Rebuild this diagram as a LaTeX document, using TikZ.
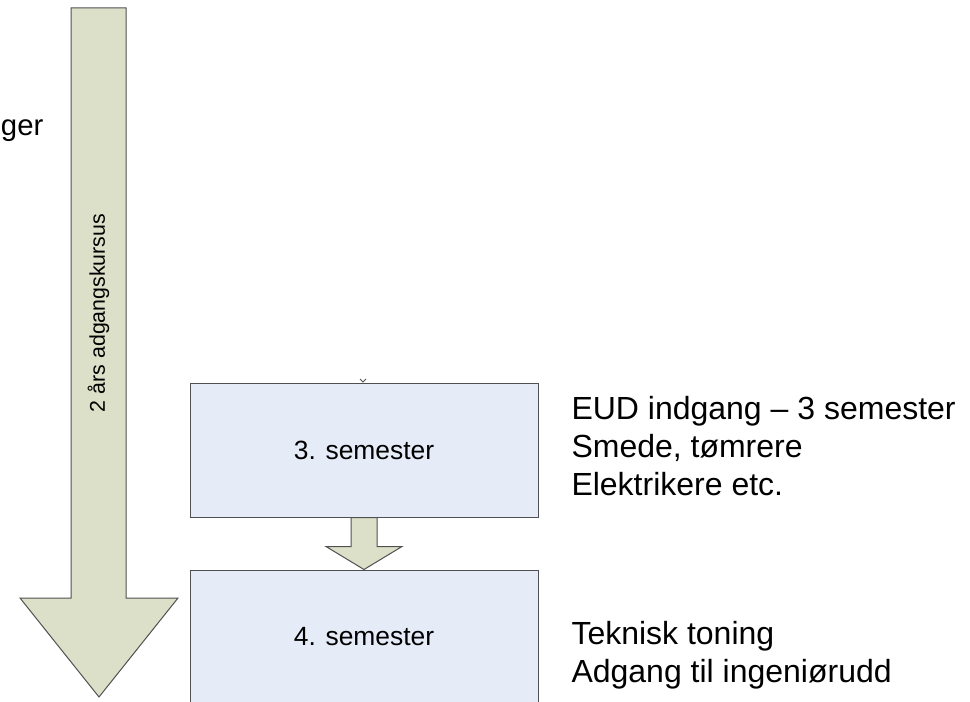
\documentclass[tikz,border=0pt]{standalone}
\usepackage{fontspec}
\setmainfont{Liberation Sans}
\usetikzlibrary{positioning,calc}
\definecolor{boxblue}{HTML}{E6ECF7}
\definecolor{arrowkhaki}{HTML}{DDE0C9}
\definecolor{edgegray}{HTML}{505050}

\begin{document}
\begin{tikzpicture}[x=0.75pt,y=-0.75pt,line width=0.75pt,
  every node/.style={inner sep=0pt},
  semester/.style={draw=edgegray,fill=boxblue,minimum width=261pt,minimum height=100.5pt,font=\fontsize{19.8}{23}\selectfont},
  notes/.style={align=left,anchor=west,font=\fontsize{24}{28.5}\selectfont},
  blockarrow/.style={draw=edgegray,fill=arrowkhaki,line join=miter}]
\clip (0,0) rectangle (970,702);
%-------------
\draw[blockarrow] (71,8) -- (126,8) -- (126,598) -- (178,598) -- (99,697) -- (20,598) -- (71,598) -- cycle;
\node[rotate=90,font=\fontsize{16}{19}\selectfont] (kursus) at (98.5,313) {2 års adgangskursus};
\node[anchor=base west,font=\fontsize{22}{26}\selectfont] (ger) at (0.5,136) {ger};
%-------------
\node[semester] (s3) at (364,450) {3. semester};
\node[semester] (s4) at (364,637) {4. semester};
\draw[edgegray,line width=0.6pt] (360,379) -- (363,382) -- (366,379);
\draw[blockarrow] ($(s3.south)+(-13,0)$) -- ($(s3.south)+(13,0)$) -- ($(s3.south)+(13,29)$)
  -- ($(s3.south)+(38,29)$) -- (s4.north) -- ($(s3.south)+(-38,29)$) -- ($(s3.south)+(-13,29)$) -- cycle;
%------------
\node[notes] (eud) at (571,446) {EUD indgang -- 3 semester\\Smede, tømrere\\Elektrikere etc.};
\node[notes] (teknisk) at (571,655) {Teknisk toning\\Adgang til ingeniørudd};
\end{tikzpicture}
\end{document}
